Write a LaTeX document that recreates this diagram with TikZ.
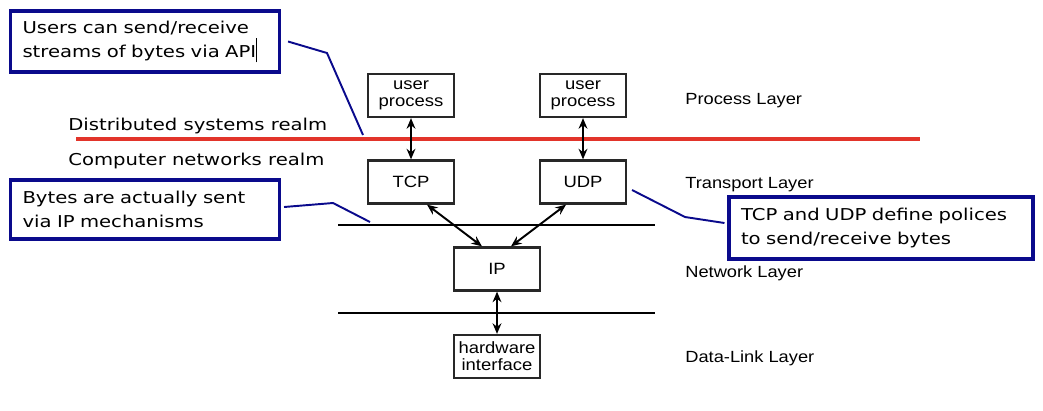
\documentclass[tikz,border=0pt]{standalone}
\usepackage{fontspec}
\setmainfont{Liberation Sans}[FakeStretch=1.13]
\newfontfamily\calloutfont{DejaVu Sans}[FakeStretch=1.2]
\usetikzlibrary{arrows.meta}
\definecolor{calloutblue}{RGB}{10,10,140}
\definecolor{realmred}{RGB}{226,52,42}
\definecolor{boxgray}{RGB}{40,40,40}

\begin{document}
\begin{tikzpicture}[x=0.02cm,y=-0.02cm,
	layerbox/.style={draw=boxgray,line width=1.3pt,minimum width=1.72cm,minimum height=0.86cm,inner sep=0pt,align=center,font=\fontsize{9.3}{9.6}\selectfont},
	callout/.style={draw=calloutblue,line width=1.8pt,inner xsep=0.24cm,inner ysep=0pt,align=left,font=\calloutfont\fontsize{9.3}{13.6}\selectfont},
	pointer/.style={calloutblue,line width=1.1pt},
	link/.style={{Stealth[length=6pt,width=5pt]}-{Stealth[length=6pt,width=5pt]},line width=1.1pt},
	layer/.style={anchor=base west,inner sep=0pt,font=\fontsize{9.2}{9.5}\selectfont},
	realm/.style={anchor=base west,inner sep=0pt,font=\calloutfont\fontsize{9.3}{11}\selectfont}]
		\useasboundingbox (0,0) rectangle (1043,410);
		% protocol boxes
		\node[layerbox] (user1) at (411,95.5) {user\\process};
		\node[layerbox] (user2) at (583,95.5) {user\\process};
		\node[layerbox] (tcp) at (411,182) {TCP};
		\node[layerbox] (udp) at (583,182) {UDP};
		\node[layerbox] (ip) at (497,269) {IP};
		\node[layerbox] (hw) at (497,356.5) {hardware\\interface};
		
		\draw[line width=0.9pt] (338,225) -- (655,225);
		\draw[line width=0.9pt] (338,313) -- (655,313);
		
		\node[layer] (process) at (685,104) {Process Layer};
		\node[layer] (transport) at (685,188) {Transport Layer};
		\node[layer] (network) at (685,277) {Network Layer};
		\node[layer] (datalink) at (685,362) {Data-Link Layer};
		
		% realm border
		\draw[realmred,line width=2.8pt] (76,139) -- (920,139);
		\node[realm] (dist) at (68,130) {Distributed systems realm};
		\node[realm] (comp) at (68,165) {Computer networks realm};
		
		\draw[link] (user1.south) -- (tcp.north);
		\draw[link] (user2.south) -- (udp.north);
		\draw[link] ([xshift=0.32cm]tcp.south) -- ([xshift=-0.3cm]ip.north);
		\draw[link] ([xshift=-0.34cm]udp.south) -- ([xshift=0.28cm]ip.north);
		\draw[link] (ip.south) -- (hw.north);
		
		% callouts
		\node[callout,text width=4.9cm,minimum height=1.22cm] (callA) at (145,41.5) {Users can send/receive\\streams of bytes via API\rule[-3pt]{0.5pt}{14pt}};
		\node[callout,text width=4.9cm,minimum height=1.18cm] (callB) at (145,209.5) {Bytes are actually sent\\via IP mechanisms};
		\node[callout,text width=5.6cm,minimum height=1.24cm] (callC) at (881,228) {TCP and UDP define polices\\to send/receive bytes};
		\coordinate (apiEnd) at (363,135);
		\coordinate (ipEnd) at (370,222);
		\coordinate (transEnd) at (632,190);
		\draw[pointer] ([xshift=0.14cm]callA.east) -- (327,53) -- (apiEnd);
		\draw[pointer] ([xshift=0.06cm,yshift=0.05cm]callB.east) -- (333,203) -- (ipEnd);
		\draw[pointer] ([xshift=-0.06cm,yshift=0.1cm]callC.west) -- (685,217) -- (transEnd);
\end{tikzpicture}
\end{document}
